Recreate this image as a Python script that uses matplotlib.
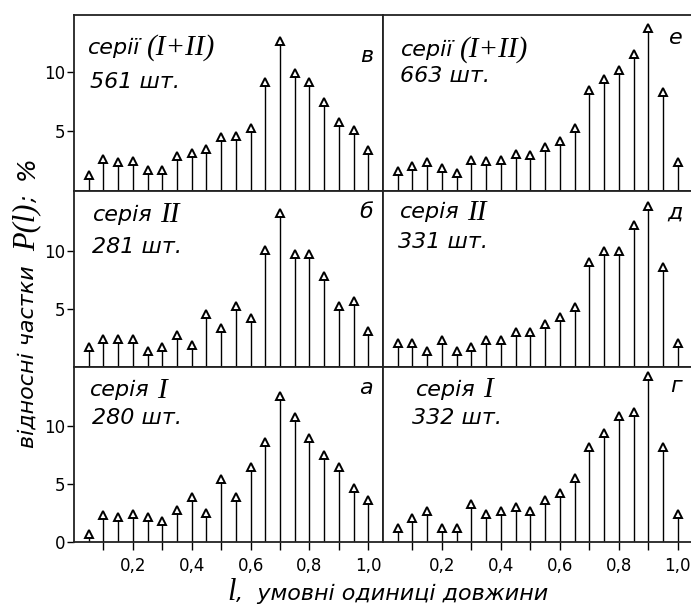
import matplotlib
matplotlib.use('Agg')
import matplotlib.pyplot as plt

# довжина, умовні одиниці
l_vals = [0.05, 0.10, 0.15, 0.20, 0.25, 0.30, 0.35, 0.40, 0.45, 0.50,
          0.55, 0.60, 0.65, 0.70, 0.75, 0.80, 0.85, 0.90, 0.95, 1.00]

# P(l), %  (читано з рисунка)
p_v = [1.3, 2.7, 2.4, 2.5, 1.8, 1.8, 2.9, 3.2, 3.5, 4.5,
       4.6, 5.3, 9.1, 12.6, 9.9, 9.1, 7.5, 5.8, 5.1, 3.4]
p_e = [1.7, 2.1, 2.4, 1.9, 1.5, 2.6, 2.5, 2.6, 3.1, 3.0,
       3.7, 4.2, 5.3, 8.5, 9.4, 10.1, 11.5, 13.7, 8.3, 2.4]
p_b = [1.7, 2.4, 2.4, 2.4, 1.4, 1.7, 2.8, 1.9, 4.6, 3.4,
       5.3, 4.2, 10.1, 13.3, 9.8, 9.8, 7.9, 5.3, 5.7, 3.1]
p_d = [2.1, 2.1, 1.4, 2.3, 1.4, 1.7, 2.3, 2.3, 3.0, 3.0,
       3.7, 4.3, 5.2, 9.1, 10.0, 10.0, 12.3, 13.9, 8.6, 2.1]
p_a = [0.7, 2.3, 2.2, 2.4, 2.2, 1.8, 2.8, 3.9, 2.5, 5.4,
       3.9, 6.5, 8.6, 12.6, 10.8, 9.0, 7.5, 6.5, 4.7, 3.6]
p_g = [1.2, 2.1, 2.7, 1.2, 1.2, 3.3, 2.4, 2.7, 3.0, 2.7,
       3.6, 4.2, 5.5, 8.2, 9.4, 10.9, 11.2, 14.3, 8.2, 2.4]

xticks = [0.1, 0.2, 0.3, 0.4, 0.5, 0.6, 0.7, 0.8, 0.9, 1.0]
xticklabels = ['', '0,2', '', '0,4', '', '0,6', '', '0,8', '', '1,0']

plt.rcParams['font.family'] = ['DejaVu Sans']

W, H = 691.0, 606.0
fig = plt.figure(figsize=(W / 100, H / 100), dpi=100)
renderer = fig.canvas.get_renderer()

SANS = dict(fontsize=16, style='italic')
SERIF = dict(family='Liberation Serif', style='italic')


def put(x, y, s, **kw):
    # x, y in pixels from top-left, text anchored at baseline start
    return fig.text(x / W, (H - y) / H, s, ha=kw.pop('ha', 'left'),
                    va='baseline', rotation_mode='anchor', **kw)


def width(t):
    return t.get_window_extent(renderer).width


cols = [(74 / W, 309 / W), (383 / W, 309.5 / W)]
rows = [((H - 191) / H, 176 / H), ((H - 367) / H, 176 / H), ((H - 542) / H, 175 / H)]

# (рядок, стовпчик, дані, назва, римські, кількість, літера, верх осі y)
panels = [
    (0, 0, p_v, 'серії', '(I+II)', '561 шт.', 'в', 14.75),
    (0, 1, p_e, 'серії', '(I+II)', '663 шт.', 'е', 14.75),
    (1, 0, p_b, 'серія', 'II', '281 шт.', 'б', 15.2),
    (1, 1, p_d, 'серія', 'II', '331 шт.', 'д', 15.2),
    (2, 0, p_a, 'серія', 'I', '280 шт.', 'а', 15.1),
    (2, 1, p_g, 'серія', 'I', '332 шт.', 'г', 15.1),
]
# положення написів у пікселях: x назви, y1, x кількості, y2, x літери, y літери
label_pos = [
    (88, 53.5, 90, 88.5, 373, 61.5),
    (401, 56, 400, 82.5, 683, 43.5),
    (93, 221, 92, 253, 373, 218.5),
    (400, 218.5, 398, 248.5, 683, 218.5),
    (90, 396.5, 92, 423.5, 373, 393.5),
    (416, 396, 412, 423.5, 682, 391.5),
]

for (r, c, vals, name, roman, count, letter, ytop), lp in zip(panels, label_pos):
    ax = fig.add_axes([cols[c][0], rows[r][0], cols[c][1], rows[r][1]])
    ml, sl, bl = ax.stem(l_vals, vals, linefmt='k-', markerfmt='k^', basefmt=' ')
    sl.set_linewidth(1.0)
    ml.set_markerfacecolor('white')
    ml.set_markeredgecolor('black')
    ml.set_markersize(6)
    ml.set_markeredgewidth(1.4)
    ml.set_clip_on(False)

    ax.set_xlim(0, 1.05)
    ax.set_ylim(0, ytop)
    for sp in ax.spines.values():
        sp.set_linewidth(1.3)
        sp.set_color('#222222')

    if c == 0:
        ax.set_yticks([0, 5, 10] if r == 2 else [5, 10])
        ax.tick_params(axis='y', direction='out', length=5, width=1, pad=1, labelsize=12)
    else:
        ax.set_yticks([])

    if r == 2:
        ax.set_xticks(xticks)
        ax.set_xticklabels(xticklabels)
        ax.tick_params(axis='x', direction='out', length=6, width=1, pad=5, labelsize=12)
    else:
        ax.set_xticks([])

    xn, y1, xc, y2, xl, yl = lp
    t = put(xn, y1, name, **SANS)
    put(xn + width(t) + 7, y1 + 1, roman, fontsize=21, **SERIF)
    put(xc, y2, count, **SANS)
    put(xl, yl, letter, ha='right', **SANS)

# підпис осі y, частини різними шрифтами, вздовж спільної базової лінії
y = 448.0
for s, kw, gap in [('відносні частки', SANS, 14),
                   ('P(l)', dict(fontsize=22, **SERIF), 2),
                   (';', SANS, 14),
                   ('%', dict(fontsize=18, style='italic'), 0)]:
    t = put(34, y, s, rotation=90, **kw)
    y -= t.get_window_extent(renderer).height + gap

# підпис осі x
x = 227.0
for s, kw, gap in [('l', dict(fontsize=22, **SERIF), 0),
                   (',  умовні одиниці довжини', SANS, 0)]:
    t = put(x, 600, s, **kw)
    x += width(t) + gap

fig.savefig('out.png', dpi=100)
